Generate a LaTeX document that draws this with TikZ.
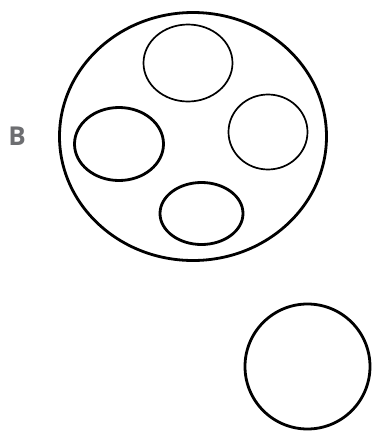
\documentclass[tikz,border=0pt]{standalone}
\usepackage{fontspec}
\setmainfont{Open Sans}
\definecolor{lblgray}{HTML}{6D6E71}
\begin{document}
\begin{tikzpicture}[x=1pt,y=-1pt,
  thick/.style={draw=black,line width=2.8pt},
  thin/.style={draw=black,line width=1.7pt}]
\useasboundingbox (0,0) rectangle (373,432);
\node[text=lblgray,font=\bfseries\fontsize{26}{26}\selectfont] (lbl) at (17,136) {B};
\draw[thick] (193,136.5) ellipse [x radius=133.5, y radius=124];
\draw[thin] (188,63) ellipse [x radius=44.5, y radius=38.5];
\draw[thick] (119,144) ellipse [x radius=44.5, y radius=36.5];
\draw[thin] (268,132) ellipse [x radius=39.5, y radius=37.5];
\draw[thick] (201.5,213.5) ellipse [x radius=41.5, y radius=31];
\draw[thick] (307.5,366.5) circle [radius=62.5];
\end{tikzpicture}
\end{document}
